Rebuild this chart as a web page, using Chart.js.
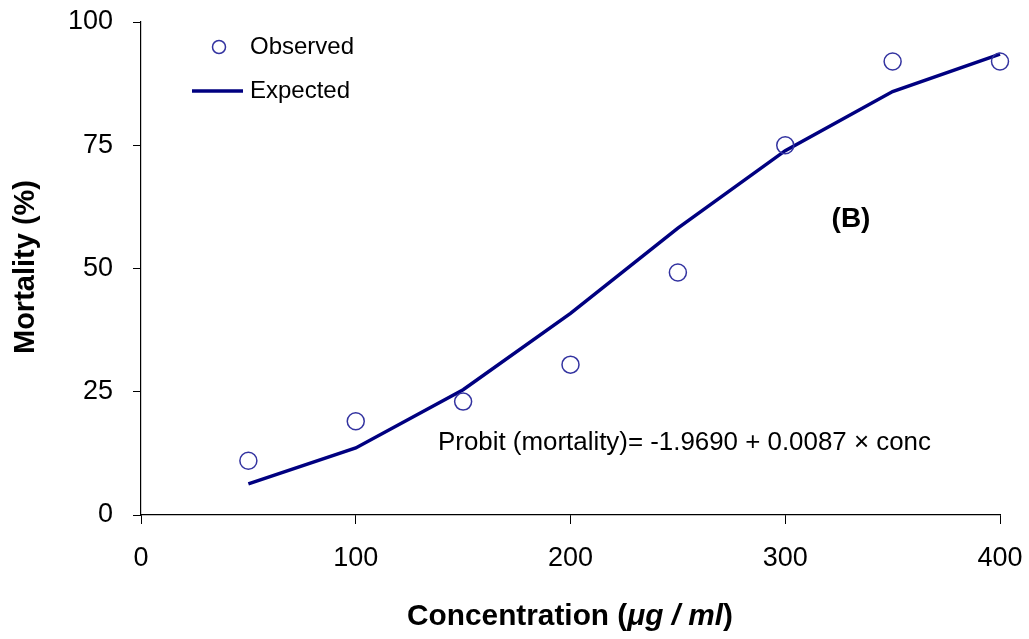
<!DOCTYPE html>
<html><head><meta charset="utf-8">
<script src="https://cdn.jsdelivr.net/npm/chart.js@4.4.1/dist/chart.umd.min.js"></script>
<style>html,body{margin:0;padding:0;background:#fff}#wrap{width:1029px;height:639px}</style>
</head><body><div id="wrap"><canvas id="c" width="1029" height="639"></canvas></div>
<script>
const concentrations = [50, 100, 150, 200, 250, 300, 350, 400];
const observed = [11, 19, 23, 30.5, 49.2, 75, 92, 92];
const expected = [6.3, 13.6, 25.4, 40.9, 58.2, 73.9, 85.9, 93.5];
const xTicks = [0, 100, 200, 300, 400];
const yTicks = [0, 25, 50, 75, 100];
const seriesNames = ['Observed', 'Expected'];
const equationText = 'Probit (mortality)= -1.9690 + 0.0087 \u00d7 conc';
const panelLabel = '(B)';
const yTitle = 'Mortality (%)';

const FONT = '"Liberation Sans", Arial, sans-serif';
const lineColor = '#000080';
const markerColor = '#3333a0';

const overlay = {
  id: 'overlay',
  afterDraw(chart) {
    const ctx = chart.ctx;
    ctx.save();
    ctx.fillStyle = '#000';
    // legend
    ctx.strokeStyle = markerColor; ctx.lineWidth = 1.5;
    ctx.beginPath(); ctx.arc(219, 47, 6.5, 0, Math.PI * 2); ctx.stroke();
    ctx.strokeStyle = lineColor; ctx.lineWidth = 3.5;
    ctx.beginPath(); ctx.moveTo(192, 91); ctx.lineTo(243, 91); ctx.stroke();
    ctx.font = '24px ' + FONT; ctx.textBaseline = 'middle'; ctx.textAlign = 'left';
    ctx.fillText(seriesNames[0], 250, 47);
    ctx.fillText(seriesNames[1], 250, 91);
    // equation
    ctx.font = '25.9px ' + FONT;
    ctx.fillText(equationText, 438, 443);
    // panel label
    ctx.font = 'bold 28px ' + FONT; ctx.textAlign = 'center';
    ctx.fillText(panelLabel, 851, 219);
    // y title
    ctx.save();
    ctx.translate(34, 267); ctx.rotate(-Math.PI / 2);
    ctx.font = 'bold 29px ' + FONT; ctx.textAlign = 'center'; ctx.textBaseline = 'alphabetic';
    ctx.fillText(yTitle, 0, 0);
    ctx.restore();
    // x title with italic unit
    const parts = [['Concentration (', 'bold 29.8px '], ['\u03bcg / ml', 'italic bold 29.8px '], [')', 'bold 29.8px ']];
    let total = 0;
    parts.forEach(p => { ctx.font = p[1] + FONT; total += ctx.measureText(p[0]).width; });
    let x = 570 - total / 2;
    ctx.textAlign = 'left'; ctx.textBaseline = 'alphabetic';
    parts.forEach(p => { ctx.font = p[1] + FONT; ctx.fillText(p[0], x, 625); x += ctx.measureText(p[0]).width; });
    ctx.restore();
  }
};

function noPad(s) { s.paddingTop = 0; s.paddingBottom = 0; s.paddingLeft = 0; s.paddingRight = 0; }

new Chart(document.getElementById('c'), {
  type: 'scatter',
  data: {
    datasets: [
      {
        label: seriesNames[1], type: 'line',
        data: concentrations.map((c, i) => ({ x: c, y: expected[i] })),
        borderColor: lineColor, borderWidth: 3.5, pointRadius: 0, fill: false, tension: 0, order: 2
      },
      {
        label: seriesNames[0],
        data: concentrations.map((c, i) => ({ x: c, y: observed[i] })),
        borderColor: markerColor, backgroundColor: 'rgba(0,0,0,0)', borderWidth: 1.5,
        pointRadius: 8.5, pointHoverRadius: 8.5, order: 1
      }
    ]
  },
  options: {
    responsive: false, animation: false, devicePixelRatio: 1,
    clip: false,
    layout: { padding: { top: 22, right: 29, left: 0, bottom: 0 } },
    plugins: { legend: { display: false }, tooltip: { enabled: false } },
    scales: {
      x: {
        type: 'linear', min: 0, max: 400,
        afterBuildTicks: s => { s.ticks = xTicks.map(v => ({ value: v })); },
        afterFit: s => { s.height = 124; noPad(s); },
        grid: { drawOnChartArea: false, color: '#000', tickLength: 9, tickWidth: 1 },
        border: { color: '#000', width: 1.2 },
        ticks: { font: { family: FONT, size: 27 }, color: '#000', padding: 18, maxRotation: 0 },
        title: { display: false }
      },
      y: {
        min: 0, max: 100,
        afterBuildTicks: s => { s.ticks = yTicks.map(v => ({ value: v })); },
        afterFit: s => { s.width = 141; noPad(s); },
        grid: { drawOnChartArea: false, color: '#000', tickLength: 8, tickWidth: 1 },
        border: { color: '#000', width: 1.2 },
        ticks: { font: { family: FONT, size: 27 }, color: '#000', padding: 20 },
        title: { display: false }
      }
    }
  },
  plugins: [overlay]
});
</script></body></html>
